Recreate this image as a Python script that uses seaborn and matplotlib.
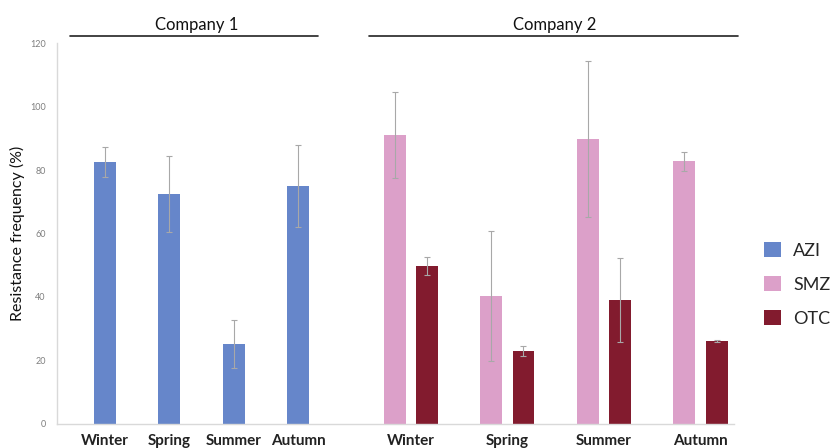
import matplotlib
matplotlib.use("Agg")
import matplotlib.pyplot as plt
from matplotlib.patches import Patch
import numpy as np
import pandas as pd
import seaborn as sns

# Resistance frequency (%) by season, mean and error
seasons = ["Winter", "Spring", "Summer", "Autumn"]

azi_mean = [82.5, 72.4, 25.2, 75.0]   # Company 1
azi_err = [4.7, 12.0, 7.5, 12.8]

smz_mean = [91.0, 40.3, 89.7, 82.8]   # Company 2
smz_err = [13.6, 20.5, 24.6, 3.0]

otc_mean = [49.8, 23.0, 39.0, 26.1]   # Company 2
otc_err = [2.8, 1.5, 13.3, 0.2]

drugs = ["AZI", "SMZ", "OTC"]
colors = {"AZI": "#6686CA", "SMZ": "#DCA0C9", "OTC": "#821B2E"}

# layout of the category axis
c1_pos = np.arange(len(seasons), dtype=float)
c2_start, c2_step, pair_off = 4.75, 1.5, 0.25
c2_centers = c2_start + c2_step * np.arange(len(seasons))

rows = []
for p, m, e in zip(c1_pos, azi_mean, azi_err):
    rows.append(("AZI", p, m, e))
for c, m, e in zip(c2_centers, smz_mean, smz_err):
    rows.append(("SMZ", c - pair_off, m, e))
for c, m, e in zip(c2_centers, otc_mean, otc_err):
    rows.append(("OTC", c + pair_off, m, e))
df = pd.DataFrame(rows, columns=["drug", "pos", "value", "err"])

sns.set_theme(style="white")
plt.rcParams["font.family"] = ["Lato", "DejaVu Sans"]

fig = plt.figure(figsize=(8.32, 4.48), dpi=100)
ax = fig.add_axes([0.0685, 0.0536, 0.8137, 0.8504])

sns.barplot(data=df, x="pos", y="value", hue="drug", hue_order=drugs,
            palette=colors, native_scale=True, dodge=False, width=0.68,
            saturation=1, linewidth=0, legend=False, ax=ax)

ax.errorbar(df["pos"], df["value"], yerr=df["err"], fmt="none",
            ecolor="#A8A8A8", elinewidth=0.8, capsize=2.5, capthick=0.8,
            zorder=3)

ax.set_xlim(-0.745, 9.77)
ax.set_ylim(0, 120)
ax.set_yticks(np.arange(0, 121, 20))
ax.tick_params(axis="y", length=0, pad=8, labelsize=6.5, labelcolor="#7F7F7F")
ax.tick_params(axis="x", length=0, pad=7, labelsize=11)

ax.set_xticks(list(c1_pos) + list(c2_centers))
ax.set_xticklabels(seasons + seasons, fontweight="bold", color="#222222")
ax.set_xlabel("")
ax.set_ylabel("Resistance frequency (%)", fontsize=11.5, color="#111111",
              labelpad=3.5)

for side in ("top", "right"):
    ax.spines[side].set_visible(False)
for side in ("left", "bottom"):
    ax.spines[side].set_color("#D9D9D9")
    ax.spines[side].set_linewidth(1.0)

# company headers with rules beneath
for label, x0, x1, xc in [("Company 1", -0.54, 3.31, 1.43),
                          ("Company 2", 4.10, 9.83, 6.99)]:
    ax.plot([x0, x1], [122.2, 122.2], color="#222222", lw=1.2,
            clip_on=False, transform=ax.transData)
    ax.text(xc, 125.8, label, ha="center", va="center", fontsize=12,
            color="#111111", clip_on=False)

handles = [Patch(facecolor=colors[d], edgecolor="none", label=d) for d in drugs]
fig.legend(handles=handles, loc="center left", bbox_to_anchor=(0.91, 0.365),
           frameon=False, fontsize=13, handlelength=0.9, handleheight=0.9,
           handletextpad=0.7, labelspacing=0.95, borderaxespad=0)

fig.savefig("out.png", dpi=100)
